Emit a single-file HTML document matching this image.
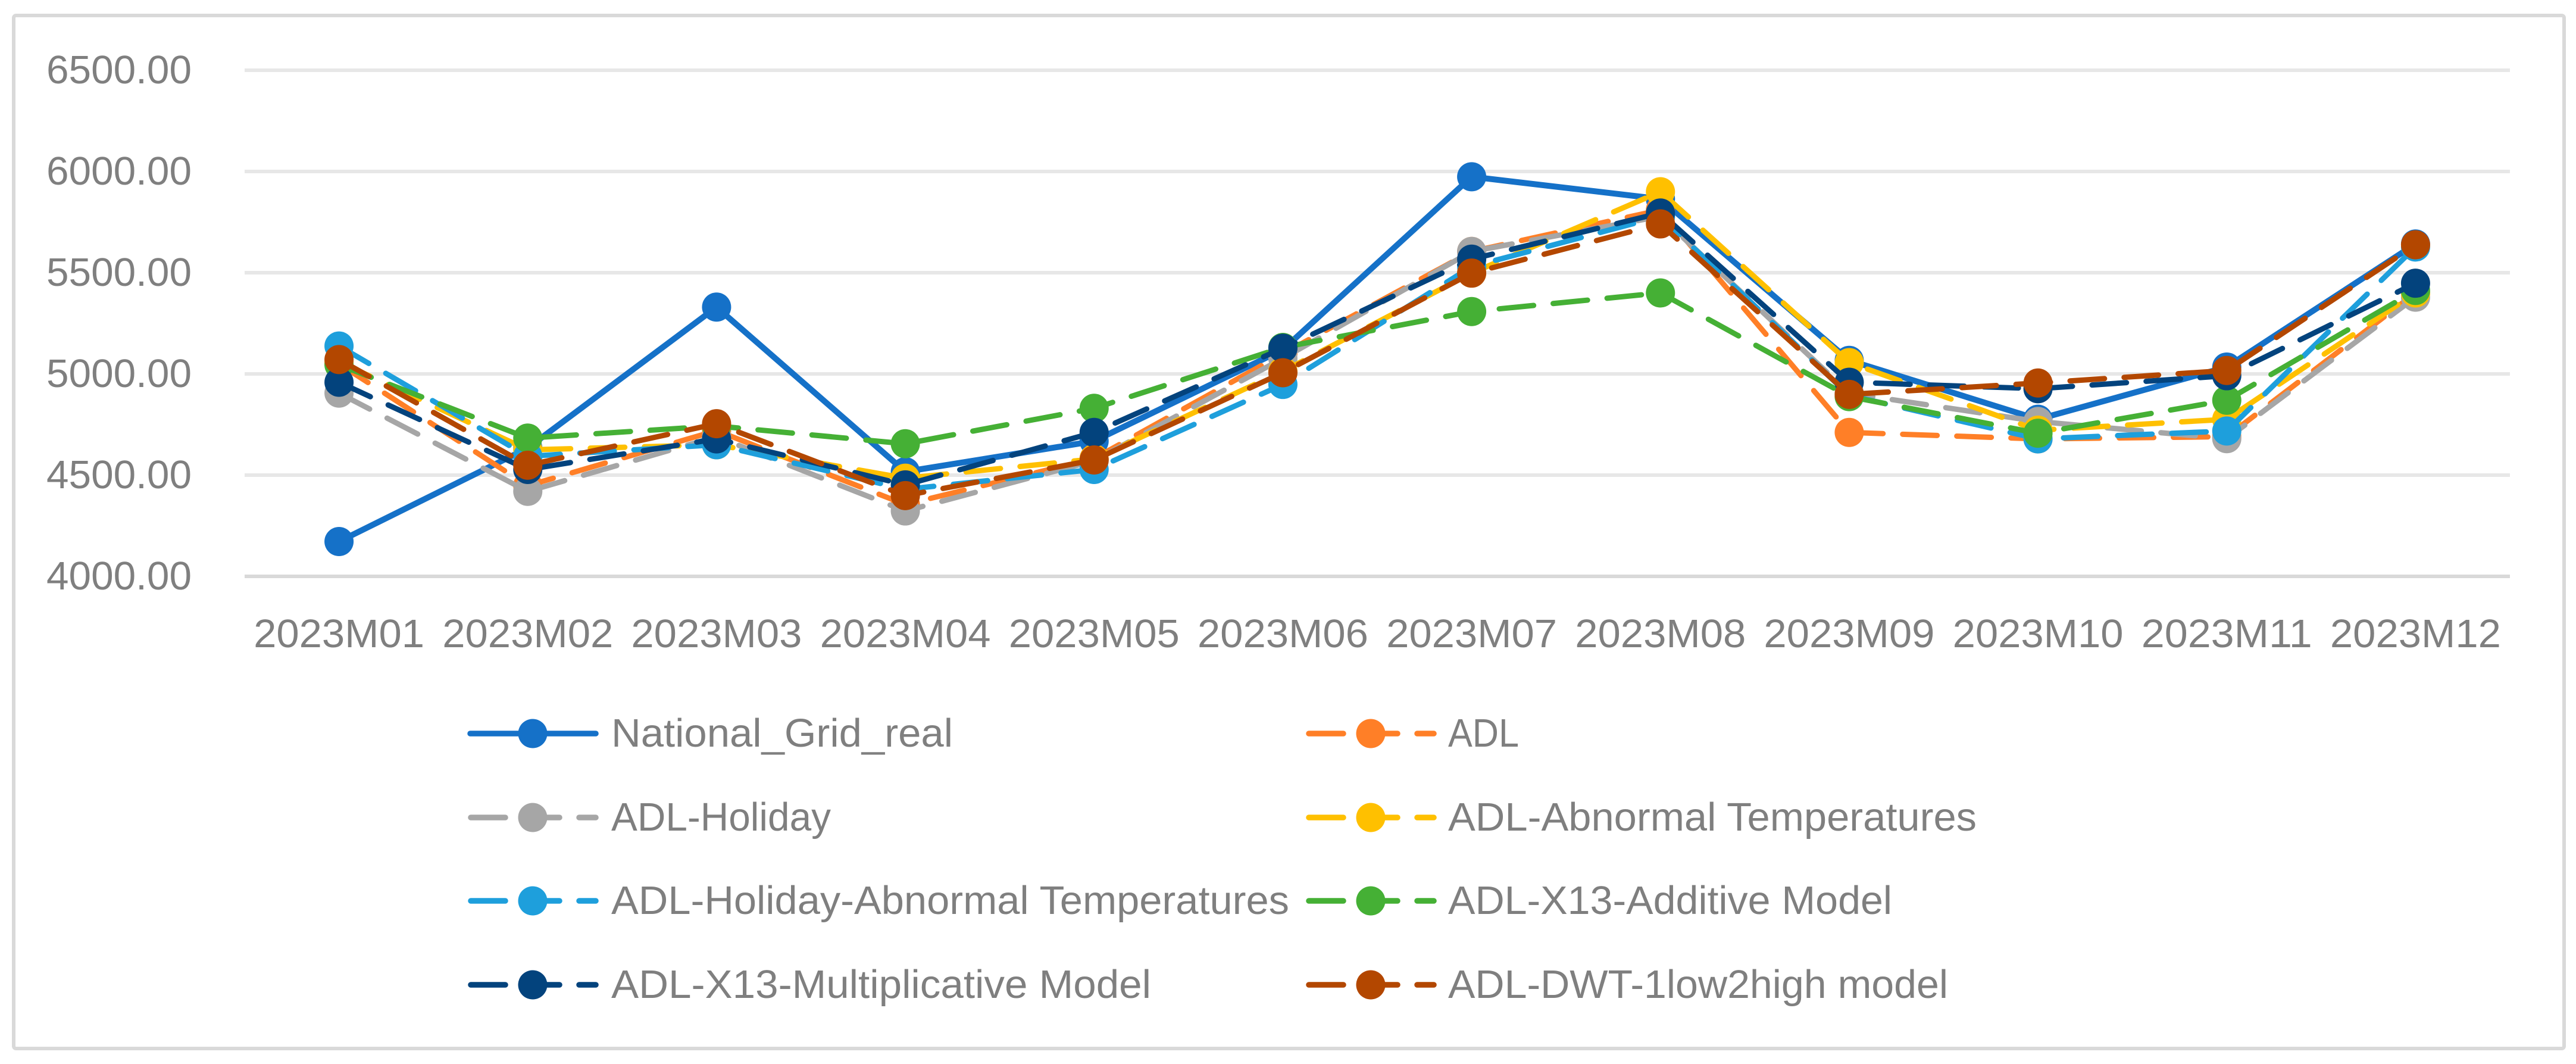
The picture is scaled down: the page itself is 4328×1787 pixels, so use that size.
<!DOCTYPE html>
<html lang="en">
<head>
<meta charset="utf-8">
<title>National Grid forecast comparison 2023</title>
<style>
html,body{margin:0;padding:0;background:#fff;width:4328px;height:1787px;overflow:hidden}
svg{display:block}
text{font-family:"Liberation Sans",sans-serif;fill:#7f7f7f;font-size:67px}
</style>
</head>
<body>
<svg id="chart" xmlns="http://www.w3.org/2000/svg" width="4328" height="1787" viewBox="0 0 4328 1787">
  <rect x="23" y="26" width="4285" height="1735" rx="4" fill="#ffffff" stroke="#d9d9d9" stroke-width="6"/>
  <g id="grid"></g>
  <g id="ylabels"></g>
  <g id="xlabels"></g>
  <g id="plot"></g>

  <g>
    <g>
      <line x1="790" y1="1232" x2="1001" y2="1232" stroke="#1571c8" stroke-width="9.5" stroke-linecap="round"/>
      <circle cx="895" cy="1232" r="24.5" fill="#1571c8"/>
      <text x="1027" y="1254" textLength="574" lengthAdjust="spacingAndGlyphs">National_Grid_real</text>
    </g>
    <g>
      <line x1="791" y1="1373" x2="1001" y2="1373" stroke="#a6a6a6" stroke-width="9.5" stroke-linecap="round" stroke-dasharray="58 33"/>
      <circle cx="895" cy="1373" r="24.5" fill="#a6a6a6"/>
      <text x="1027" y="1395" textLength="369" lengthAdjust="spacingAndGlyphs">ADL-Holiday</text>
    </g>
    <g>
      <line x1="791" y1="1513" x2="1001" y2="1513" stroke="#1e9fdc" stroke-width="9.5" stroke-linecap="round" stroke-dasharray="58 33"/>
      <circle cx="895" cy="1513" r="24.5" fill="#1e9fdc"/>
      <text x="1027" y="1535" textLength="1139" lengthAdjust="spacingAndGlyphs">ADL-Holiday-Abnormal Temperatures</text>
    </g>
    <g>
      <line x1="791" y1="1654" x2="1001" y2="1654" stroke="#03437d" stroke-width="9.5" stroke-linecap="round" stroke-dasharray="58 33"/>
      <circle cx="895" cy="1654" r="24.5" fill="#03437d"/>
      <text x="1027" y="1676" textLength="907" lengthAdjust="spacingAndGlyphs">ADL-X13-Multiplicative Model</text>
    </g>
    <g>
      <line x1="2199" y1="1232" x2="2409" y2="1232" stroke="#ff7f27" stroke-width="9.5" stroke-linecap="round" stroke-dasharray="58 33"/>
      <circle cx="2303" cy="1232" r="24.5" fill="#ff7f27"/>
      <text x="2433" y="1254" textLength="119" lengthAdjust="spacingAndGlyphs">ADL</text>
    </g>
    <g>
      <line x1="2199" y1="1373" x2="2409" y2="1373" stroke="#ffc000" stroke-width="9.5" stroke-linecap="round" stroke-dasharray="58 33"/>
      <circle cx="2303" cy="1373" r="24.5" fill="#ffc000"/>
      <text x="2433" y="1395" textLength="888" lengthAdjust="spacingAndGlyphs">ADL-Abnormal Temperatures</text>
    </g>
    <g>
      <line x1="2199" y1="1513" x2="2409" y2="1513" stroke="#45b035" stroke-width="9.5" stroke-linecap="round" stroke-dasharray="58 33"/>
      <circle cx="2303" cy="1513" r="24.5" fill="#45b035"/>
      <text x="2433" y="1535" textLength="746" lengthAdjust="spacingAndGlyphs">ADL-X13-Additive Model</text>
    </g>
    <g>
      <line x1="2199" y1="1654" x2="2409" y2="1654" stroke="#b34700" stroke-width="9.5" stroke-linecap="round" stroke-dasharray="58 33"/>
      <circle cx="2303" cy="1654" r="24.5" fill="#b34700"/>
      <text x="2433" y="1676" textLength="840" lengthAdjust="spacingAndGlyphs">ADL-DWT-1low2high model</text>
    </g>
  </g>
</svg>
<script>
const categories = ["2023M01","2023M02","2023M03","2023M04","2023M05","2023M06","2023M07","2023M08","2023M09","2023M10","2023M11","2023M12"];
const yTicks = [4000,4500,5000,5500,6000,6500];
const nationalGridReal = [4172,4634,5330,4517,4668,5120,5974,5864,5067,4776,5034,5642];
const adl = [5050,4448,4720,4355,4582,5100,5605,5810,4711,4679,4690,5400];
const adlHoliday = [4905,4420,4690,4323,4571,5077,5605,5778,4905,4765,4680,5379];
const adlAbnormalTemperatures = [5060,4625,4650,4485,4580,5013,5498,5900,5056,4722,4776,5400];
const adlHolidayAbnormalTemperatures = [5138,4593,4650,4430,4528,4948,5530,5778,4894,4679,4718,5627];
const adlX13Additive = [5045,4683,4743,4655,4830,5131,5308,5400,4888,4707,4870,5412];
const adlX13Multiplicative = [4959,4528,4679,4452,4711,5127,5567,5795,4959,4927,4991,5448];
const adlDwt = [5071,4549,4754,4399,4575,5006,5498,5741,4899,4955,5017,5638];

const NS = "http://www.w3.org/2000/svg";
const plotLeft = 411, plotRight = 4217, plotTop = 118, plotBottom = 968;
const yMin = 4000, yMax = 6500;
const band = (plotRight - plotLeft) / categories.length;
function xScale(i){ return plotLeft + band * (i + 0.5); }
function yScale(v){ return plotBottom - (v - yMin) / (yMax - yMin) * (plotBottom - plotTop); }
function make(tag, attrs){
  const el = document.createElementNS(NS, tag);
  for (const k in attrs) el.setAttribute(k, attrs[k]);
  return el;
}

const grid = document.getElementById("grid");
const ylabels = document.getElementById("ylabels");
const xlabels = document.getElementById("xlabels");
const plot = document.getElementById("plot");

yTicks.forEach(function(t){
  const line = make("line", {x1: plotLeft, x2: plotRight, y1: yScale(t), y2: yScale(t), stroke: t === yMin ? "#d9d9d9" : "#e7e7e7", "stroke-width": 6});
  
  
  grid.appendChild(line);
  const label = make("text", {x: 78, y: yScale(t) + 22, textLength: 244, lengthAdjust: "spacingAndGlyphs"});
  
  
  label.textContent = t.toFixed(2);
  ylabels.appendChild(label);
});

categories.forEach(function(c, i){
  const label = make("text", {x: xScale(i) - 143.5, y: 1087, textLength: 287, lengthAdjust: "spacingAndGlyphs"});
  
  
  label.textContent = c;
  xlabels.appendChild(label);
});

function drawSeries(values, color, dashed){
  const g = make("g", {});
  
  
  const pts = values.map(function(v, i){ return xScale(i) + "," + yScale(v); }).join(" ");
  const line = make("polyline", {points: pts, fill: "none", stroke: color, "stroke-width": dashed ? 9 : 10, "stroke-linecap": "round", "stroke-linejoin": "round"});
  if (dashed) line.setAttribute("stroke-dasharray", "58 33");
  
  
  g.appendChild(line);
  values.forEach(function(v, i){
    const dot = make("circle", {cx: xScale(i), cy: yScale(v), r: 24.5, fill: color});
    
    
    g.appendChild(dot);
  });
  plot.appendChild(g);
}

drawSeries(nationalGridReal, "#1571c8", false);
drawSeries(adl, "#ff7f27", true);
drawSeries(adlHoliday, "#a6a6a6", true);
drawSeries(adlAbnormalTemperatures, "#ffc000", true);
drawSeries(adlHolidayAbnormalTemperatures, "#1e9fdc", true);
drawSeries(adlX13Additive, "#45b035", true);
drawSeries(adlX13Multiplicative, "#03437d", true);
drawSeries(adlDwt, "#b34700", true);
</script>
</body>
</html>
